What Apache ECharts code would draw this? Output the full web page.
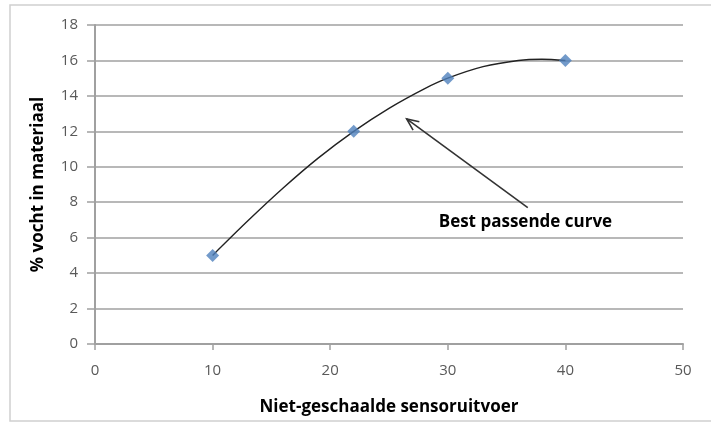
<!DOCTYPE html>
<html>
<head>
<meta charset="utf-8">
<script src="https://cdn.jsdelivr.net/npm/echarts@6/dist/echarts.min.js"></script>
<style>
  html, body { margin: 0; padding: 0; background: #fff; }
  #chart { width: 711px; height: 425px; }
</style>
</head>
<body>
<div id="chart"></div>
<script>
var sensorOutput = [10, 22, 30, 40];
var moisture = [5, 12, 15, 16];
// best fit curve
var curveX = [10, 13, 16, 19, 22, 25, 28, 30, 33, 36, 38, 40];
var curveY = [5, 6.95, 8.8, 10.5, 12, 13.3, 14.4, 15, 15.65, 16, 16.07, 16];
var xTicks = [0, 10, 20, 30, 40, 50];
var yTicks = [0, 2, 4, 6, 8, 10, 12, 14, 16, 18];

// annotation, in data coordinates
var arrowTip = [26.5, 12.7];
var arrowTail = [36.8, 7.7];
var labelAt = [36.6, 6.85];
var labelText = "Best passende curve";

var points = sensorOutput.map(function (x, i) {
  return [x, moisture[i]];
});
var curve = curveX.map(function (x, i) {
  return [x, curveY[i]];
});

var chart = echarts.init(document.getElementById("chart"));

var titleFont = { fontFamily: "Open Sans", fontWeight: "bold", fontSize: 17, color: "#000" };

var option = {
  animation: false,
  grid: { left: 95, right: 28, top: 25, bottom: 81 },
  xAxis: {
    type: "value",
    min: xTicks[0],
    max: xTicks[xTicks.length - 1],
    interval: 10,
    name: "Niet-geschaalde sensoruitvoer",
    nameLocation: "middle",
    nameGap: 55,
    nameTextStyle: titleFont,
    axisLine: { lineStyle: { color: "#a0a0a0", width: 2 } },
    axisTick: { show: true, length: 6, lineStyle: { color: "#a0a0a0", width: 1.5 } },
    axisLabel: { color: "#595959", fontSize: 15, fontFamily: "Open Sans", margin: 19 },
    splitLine: { show: false }
  },
  yAxis: {
    type: "value",
    min: yTicks[0],
    max: yTicks[yTicks.length - 1],
    interval: 2,
    name: "% vocht in materiaal",
    nameLocation: "middle",
    nameGap: 48,
    nameRotate: 90,
    nameTextStyle: titleFont,
    axisLine: { show: true, lineStyle: { color: "#a0a0a0", width: 2 } },
    axisTick: { show: true, length: 8, lineStyle: { color: "#a0a0a0", width: 1.5 } },
    axisLabel: { color: "#595959", fontSize: 15, fontFamily: "Open Sans", margin: 17 },
    splitLine: { lineStyle: { color: "#b8b8b8", width: 2 } }
  },
  series: [
    {
      type: "line",
      data: curve,
      smooth: 0.3,
      symbol: "none",
      lineStyle: { color: "#222", width: 1.4 },
      z: 2
    },
    {
      type: "scatter",
      data: points,
      symbol: "diamond",
      symbolSize: 13,
      itemStyle: { color: "#4f81bd" },
      z: 3
    }
  ],
  graphic: [
    {
      type: "rect",
      shape: { x: 10, y: 5, width: 720, height: 416 },
      style: { fill: "none", stroke: "#d0d0d0", lineWidth: 1.5 },
      silent: true
    }
  ]
};

chart.setOption(option);

// arrow + label, placed through the axes
var tip = chart.convertToPixel({ gridIndex: 0 }, arrowTip);
var tail = chart.convertToPixel({ gridIndex: 0 }, arrowTail);
var lab = chart.convertToPixel({ gridIndex: 0 }, labelAt);
var ang = Math.atan2(tail[1] - tip[1], tail[0] - tip[0]);
var headLen = 13, headAng = 0.42;
var h1 = [tip[0] + headLen * Math.cos(ang + headAng), tip[1] + headLen * Math.sin(ang + headAng)];
var h2 = [tip[0] + headLen * Math.cos(ang - headAng), tip[1] + headLen * Math.sin(ang - headAng)];

chart.setOption({
  graphic: [
    option.graphic[0],
    {
      type: "line",
      shape: { x1: tail[0], y1: tail[1], x2: tip[0], y2: tip[1] },
      style: { stroke: "#333", lineWidth: 1.6 },
      z: 10
    },
    {
      type: "polyline",
      shape: { points: [h1, tip, h2] },
      style: { stroke: "#333", lineWidth: 1.6, fill: "none" },
      z: 10
    },
    {
      type: "text",
      x: lab[0],
      y: lab[1],
      style: {
        text: labelText,
        fontFamily: "Open Sans",
        fontWeight: "bold",
        fontSize: 17,
        fill: "#000",
        align: "center",
        verticalAlign: "middle"
      },
      z: 10
    }
  ]
});
</script>
</body>
</html>
